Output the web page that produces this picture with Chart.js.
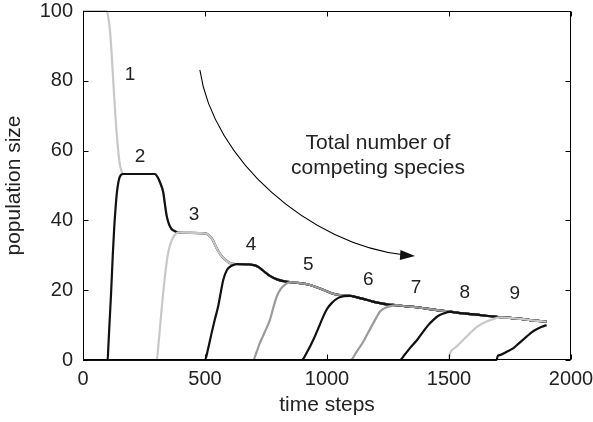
<!DOCTYPE html>
<html>
<head>
<meta charset="utf-8">
<script src="https://cdn.jsdelivr.net/npm/chart.js@4.4.0/dist/chart.umd.min.js"></script>
<style>
  html, body { margin: 0; padding: 0; background: #fff; }
  #wrap { width: 593px; height: 422px; }
</style>
</head>
<body>
<div id="wrap"><canvas id="chart" width="593" height="422"></canvas></div>
<script>
// shared top curve (all resident species sit on it)
const envelopeT = [0, 97, 104, 111, 118, 124, 131, 138, 149, 157, 165, 180, 295, 305, 315, 329, 336, 343, 352, 362,
    377, 391, 500, 515, 530, 541, 552, 566, 582, 596, 609, 630, 680, 705, 720, 740, 766, 795, 821, 848,
    880, 910, 930, 960, 999, 1020, 1045, 1070, 1094, 1120, 1149, 1185, 1217, 1250, 1286, 1320, 1354, 1390, 1422, 1460,
    1490, 1531, 1570, 1613, 1660, 1709, 1760, 1804, 1850, 1900];
const envelopeN = [100, 100, 98, 94, 87, 80, 72, 65, 57, 54.3, 53.3, 53.3, 53.3, 52.5, 51, 48, 44.5, 41.3, 39, 37.6,
    36.9, 36.5, 36.3, 35.8, 34.6, 33, 31.5, 30, 28.8, 28, 27.6, 27.5, 27.4, 27.1, 26.6, 25.5, 24.1, 23.1, 22.6, 22.3,
    22.1, 21.8, 21.5, 20.8, 19.7, 19.1, 18.7, 18.5, 18.4, 18.0, 17.5, 16.8, 16.3, 15.9, 15.7, 15.4, 15.2, 14.9, 14.6, 14.2,
    14.0, 13.6, 13.3, 13.0, 12.6, 12.3, 12.0, 11.7, 11.3, 11.0];

// invasion curves of each newcomer: [time step, population]
const rise2 = [[101, 0], [104, 4], [108, 9.6], [115, 19], [122, 30], [128, 38], [134, 44], [139, 48], [146, 51.3], [155, 53], [165, 53.3]];
const rise3 = [[302, 0], [310, 5], [322, 14.4], [329, 19.5], [336, 24], [346, 29.5], [356, 32.7], [370, 35.2], [391, 36.5]];
const rise4 = [[500, 0], [512, 3], [527, 7.7], [540, 11.5], [554, 15.4], [565, 19.5], [575, 23], [590, 25.8], [609, 27], [630, 27.5]];
const rise5 = [[698, 0], [710, 2], [725, 4.9], [745, 8], [766, 11.5], [780, 15], [794, 18.2], [810, 20.3], [828, 21.6], [848, 22.3]];
const rise6 = [[896, 0], [920, 2.5], [944, 5.8], [965, 9.2], [985, 12.5], [1000, 14.6], [1019, 16.3], [1046, 17.8], [1070, 18.3], [1094, 18.4]];
const rise7 = [[1097, 0], [1120, 2.2], [1149, 5.3], [1170, 8], [1190, 10.6], [1205, 12.5], [1217, 13.9], [1240, 15], [1270, 15.6]];
const rise8 = [[1299, 0], [1318, 1.5], [1340, 3.4], [1370, 5.8], [1395, 8.2], [1415, 10], [1436, 11.5], [1455, 12.6], [1477, 13.3], [1504, 13.8]];
const rise9 = [[1497, 0], [1504, 1.9], [1530, 3.8], [1559, 5.8], [1585, 7.6], [1613, 9.4], [1635, 10.4], [1654, 11.0], [1680, 11.7], [1709, 12.2]];
const rise10 = [[1695, 0], [1700, 1.2], [1709, 1.4], [1735, 2.3], [1764, 3.4], [1790, 5], [1818, 6.7], [1840, 8], [1859, 8.8], [1880, 9.5], [1900, 10]];

const speciesColors = ["#c8c8c8", "#111111", "#c8c8c8", "#111111", "#9a9a9a", "#111111", "#9a9a9a", "#111111", "#c8c8c8", "#111111"];

// "number of competing species" labels
const countLabels = ["1", "2", "3", "4", "5", "6", "7", "8", "9"];
const labelT = [193, 234, 455, 689, 923, 1169, 1365, 1565, 1770];
const labelN = [81.7, 58.2, 41.5, 33.0, 27.2, 23.1, 20.8, 19.3, 19.1];

const FONT = '"Liberation Sans", Arial, Helvetica, sans-serif';
Chart.defaults.font.family = FONT;
Chart.defaults.color = "#222";

function speciesData(rise) {
    const envelope = envelopeT.map((t, i) => ({ x: t, y: envelopeN[i] }));
    if (!rise) return envelope;
    const lastT = rise[rise.length - 1][0];
    return [{ x: 0, y: 0 }]
        .concat(rise.map(([t, n]) => ({ x: t, y: n })))
        .concat(envelope.filter(p => p.x > lastT));
}

const rises = [null, rise2, rise3, rise4, rise5, rise6, rise7, rise8, rise9, rise10];
const datasets = rises.map((r, i) => ({
    label: "species " + (i + 1),
    data: speciesData(r),
    borderColor: speciesColors[i],
    borderWidth: 2.2,
    pointRadius: 0,
    cubicInterpolationMode: "monotone",
    fill: false,
    clip: false,
    order: rises.length - i // later species drawn on top
}));

const decor = {
    id: "decor",
    afterDatasetsDraw(chart) {
        const { ctx, chartArea: a, scales: { x, y } } = chart;
        ctx.save();
        const L = Math.round(a.left) + 0.5, R = Math.round(a.right) - 0.5;
        const T = Math.round(a.top) + 0.5, B = Math.round(a.bottom) - 0.5;
        ctx.strokeStyle = "#000";
        ctx.lineWidth = 1;
        ctx.strokeRect(L, T, R - L, B - T);

        // inward ticks on all four sides
        ctx.beginPath();
        x.ticks.forEach(t => {
            const px = Math.round(x.getPixelForValue(t.value)) + 0.5;
            ctx.moveTo(px, B); ctx.lineTo(px, B - 5);
            ctx.moveTo(px, T); ctx.lineTo(px, T + 5);
        });
        y.ticks.forEach(t => {
            const py = Math.round(y.getPixelForValue(t.value)) + 0.5;
            ctx.moveTo(L, py); ctx.lineTo(L + 5, py);
            ctx.moveTo(R, py); ctx.lineTo(R - 5, py);
        });
        ctx.stroke();

        // species count labels
        ctx.fillStyle = "#222";
        ctx.font = "19px " + FONT;
        ctx.textAlign = "center";
        ctx.textBaseline = "middle";
        countLabels.forEach((s, i) => {
            ctx.fillText(s, x.getPixelForValue(labelT[i]), y.getPixelForValue(labelN[i]));
        });

        // curved arrow
        const P = (t, n) => [x.getPixelForValue(t), y.getPixelForValue(n)];
        const p0 = P(479, 83.1), c1 = P(533, 57.3), c2 = P(930, 33.0), p3 = P(1361, 29.8);
        ctx.beginPath();
        ctx.moveTo(p0[0], p0[1]);
        ctx.bezierCurveTo(c1[0], c1[1], c2[0], c2[1], p3[0] - 10, p3[1] - 1);
        ctx.lineWidth = 1.1;
        ctx.stroke();
        const ang = Math.atan2(p3[1] - c2[1], p3[0] - c2[0]) * 0.6;
        const len = 15, half = 5;
        ctx.beginPath();
        ctx.moveTo(p3[0], p3[1]);
        ctx.lineTo(p3[0] - len * Math.cos(ang) - half * Math.sin(ang), p3[1] - len * Math.sin(ang) + half * Math.cos(ang));
        ctx.lineTo(p3[0] - len * Math.cos(ang) + half * Math.sin(ang), p3[1] - len * Math.sin(ang) - half * Math.cos(ang));
        ctx.closePath();
        ctx.fillStyle = "#111";
        ctx.fill();

        // annotation text
        ctx.fillStyle = "#222";
        ctx.font = "21px " + FONT;
        ctx.fillText("Total number of", x.getPixelForValue(1209), y.getPixelForValue(62.2));
        ctx.fillText("competing species", x.getPixelForValue(1209), y.getPixelForValue(55.0));
        ctx.restore();
    }
};

new Chart(document.getElementById("chart"), {
    type: "line",
    data: { datasets },
    plugins: [decor],
    options: {
        responsive: false,
        animation: false,
        events: [],
        layout: { padding: { top: 11, right: 22, left: 0, bottom: 0 } },
        plugins: { legend: { display: false }, tooltip: { enabled: false } },
        scales: {
            x: {
                type: "linear",
                min: 0, max: 2000,
                ticks: { stepSize: 500, padding: 7, maxRotation: 0, autoSkip: false, font: { size: 20 }, callback: v => String(v) },
                grid: { display: false, drawTicks: false },
                border: { display: false },
                title: { display: true, text: "time steps", font: { size: 21 }, padding: { top: 0, bottom: 4 } },
                afterFit(s) { s.height = 62; s.paddingLeft = 0; s.paddingRight = 0; }
            },
            y: {
                min: 0, max: 100,
                ticks: { stepSize: 20, padding: 10, font: { size: 20 }, callback: v => String(v) },
                grid: { display: false, drawTicks: false },
                border: { display: false },
                title: { display: true, text: "population size", font: { size: 21 }, padding: { top: 2, bottom: 0 } },
                afterFit(s) { s.width = 83; s.paddingTop = 0; s.paddingBottom = 0; }
            }
        }
    }
});
</script>
</body>
</html>
